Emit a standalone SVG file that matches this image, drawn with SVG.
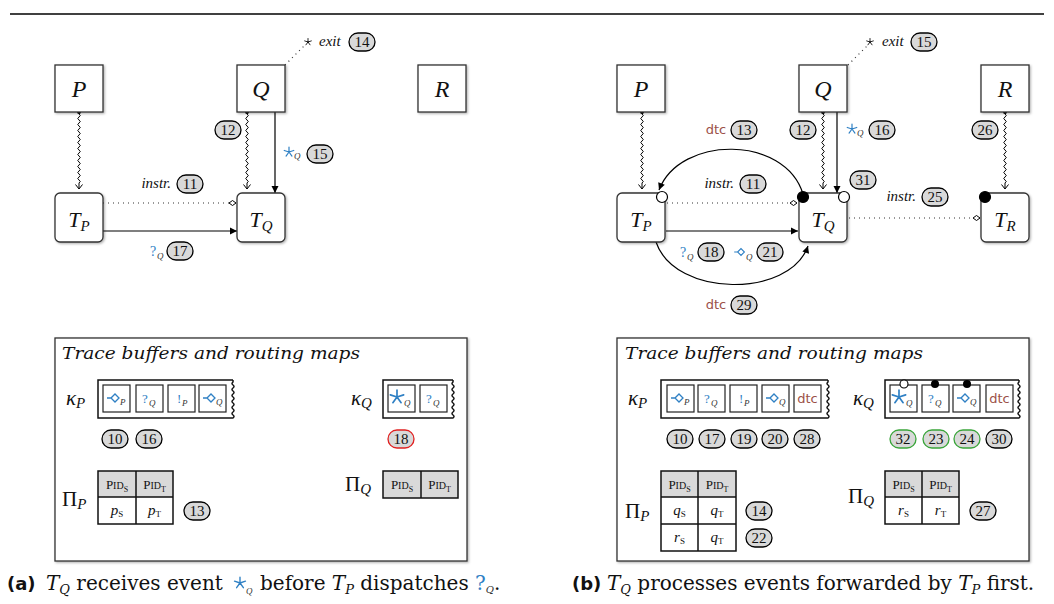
<svg xmlns="http://www.w3.org/2000/svg" width="1054" height="604" viewBox="0 0 1054 604" font-family="Liberation Serif, Times New Roman, serif">
<style>
.box{fill:#fff;stroke:#333;stroke-width:1.3}
.m{font-family:'Liberation Serif','Times New Roman',Tinos,'DejaVu Serif',serif;font-style:italic;fill:#111}
.rm{font-family:'Liberation Serif','Times New Roman',Tinos,'DejaVu Serif',serif;fill:#111}
.sub{font-family:'Liberation Serif','Times New Roman',Tinos,'DejaVu Serif',serif;font-style:italic;font-size:9px;fill:#333}
.bd rect{fill:#d9d9d9;stroke:#000;stroke-width:1.3}
.bd text{font-family:'Liberation Serif','Times New Roman',Tinos,'DejaVu Serif',serif;font-size:15px;text-anchor:middle;fill:#111}
.bd.g rect{stroke:#3aa53a}
.bd.r rect{stroke:#e02020}
.ln{fill:none;stroke:#000;stroke-width:1.2}
.dt{fill:none;stroke:#333;stroke-width:1.2;stroke-dasharray:1 4}
.snake{fill:none;stroke:#000;stroke-width:1}
.cell{fill:#fff;stroke:#222;stroke-width:1.2}
.buf{fill:#fff;stroke:#111;stroke-width:1.5}
.tbl{fill:none;stroke:#111;stroke-width:1.5}
.hd{fill:#d9d9d9;stroke:none}
.dtc{font-family:'DejaVu Sans','Liberation Sans',sans-serif;fill:#9b5148}
.qm{font-family:'Liberation Serif','Times New Roman',Tinos,'DejaVu Serif',serif;fill:#2f80c4}
.ttl{font-family:'DejaVu Serif','Liberation Serif',serif;font-style:italic;font-size:17px;fill:#111}
.cap{font-family:'DejaVu Serif','Liberation Serif',serif;font-size:20px;fill:#111}
.capb{font-family:'DejaVu Sans','Liberation Sans',sans-serif;font-weight:bold;font-size:18px;fill:#111}
</style>
<defs>
<filter id="sh" x="-10%" y="-10%" width="130%" height="130%"><feDropShadow dx="1.2" dy="1.2" stdDeviation="0.8" flood-color="#000" flood-opacity="0.3"/></filter>
<marker id="tri" viewBox="-8 -5 10 10" refX="0" refY="0" markerWidth="10" markerHeight="10" markerUnits="userSpaceOnUse" orient="auto"><path d="M-7,-3.5 L0,0 L-7,3.5 Z" fill="#000"/></marker>
<marker id="opn" viewBox="-8 -5 10 10" refX="0" refY="0" markerWidth="10" markerHeight="10" markerUnits="userSpaceOnUse" orient="auto"><path d="M-4.5,-3.5 L0,0 L-4.5,3.5" fill="none" stroke="#000" stroke-width="1"/></marker>
<marker id="dia" viewBox="-9 -5 10 10" refX="0" refY="0" markerWidth="10" markerHeight="10" markerUnits="userSpaceOnUse" orient="auto"><path d="M-7,0 L-3.5,-2.5 L0,0 L-3.5,2.5 Z" fill="#fff" stroke="#000" stroke-width="1"/></marker>
<marker id="dot" viewBox="-3 -3 6 6" refX="0" refY="0" markerWidth="6" markerHeight="6" markerUnits="userSpaceOnUse"><circle r="2" fill="#000"/></marker>
<path id="star" d="M0,-5 V0 M0,0 L4.76,-1.55 M0,0 L2.94,4.05 M0,0 L-2.94,4.05 M0,0 L-4.76,-1.55" fill="none" stroke-width="1.2" stroke-linecap="round"/>
<path id="dmd" d="M-8,0 H-4 M-4,0 L0,-4 L4,0 L0,4 Z" fill="none" stroke="#2f80c4" stroke-width="1.3" stroke-linejoin="miter"/>
</defs>
<rect width="1054" height="604" fill="#fff"/>
<line x1="10" y1="14" x2="1044" y2="14" stroke="#000" stroke-width="1.3"/>

<g id="a-connectors">
<path class="snake" transform="translate(79,112)" marker-start="url(#dot)" marker-end="url(#opn)" d="M0,0 v2 q2.5,1.5 0,3 t0,3 t0,3 t0,3 t0,3 t0,3 t0,3 t0,3 t0,3 t0,3 t0,3 t0,3 t0,3 t0,3 t0,3 t0,3 t0,3 t0,3 t0,3 t0,3 t0,3 t0,3 t0,3 v6"/>
<path class="snake" transform="translate(247,112)" marker-start="url(#dot)" marker-end="url(#opn)" d="M0,0 v2 q2.5,1.5 0,3 t0,3 t0,3 t0,3 t0,3 t0,3 t0,3 t0,3 t0,3 t0,3 t0,3 t0,3 t0,3 t0,3 t0,3 t0,3 t0,3 t0,3 t0,3 t0,3 t0,3 t0,3 t0,3 v6"/>
<path class="ln" d="M275,112 V193" marker-end="url(#tri)"/>
<path class="ln" d="M103,231 H237" marker-end="url(#tri)"/>
<path class="dt" d="M103,203 H236" marker-end="url(#dia)"/>
<path class="dt" d="M285,65 L305,45"/>
</g>

<g id="a-P"><rect class="box" x="55" y="65" width="48" height="47" filter="url(#sh)"/><text class="m" x="79" y="97" font-size="24" text-anchor="middle">P</text></g>
<g id="a-Q"><rect class="box" x="237" y="65" width="48" height="47" filter="url(#sh)"/><text class="m" x="261" y="97" font-size="24" text-anchor="middle">Q</text></g>
<g id="a-R"><rect class="box" x="418" y="65" width="48" height="47" filter="url(#sh)"/><text class="m" x="442" y="97" font-size="24" text-anchor="middle">R</text></g>
<g id="a-TP"><rect class="box" x="55" y="193" width="48" height="49" rx="5" filter="url(#sh)"/><text class="m" x="79" y="227" font-size="22" text-anchor="middle">T<tspan font-size="15" dy="4">P</tspan></text></g>
<g id="a-TQ"><rect class="box" x="237" y="193" width="48" height="49" rx="5" filter="url(#sh)"/><text class="m" x="261" y="227" font-size="22" text-anchor="middle">T<tspan font-size="15" dy="4">Q</tspan></text></g>

<g id="a-labels">
<use href="#star" transform="translate(308,42) scale(0.7)" stroke="#000"/>
<text class="m" x="319" y="46" font-size="15">exit</text>
<use href="#star" transform="translate(289,152)" stroke="#2f80c4"/>
<text class="sub" x="294" y="159">Q</text>
<text class="m" x="171" y="188" font-size="15" text-anchor="end">instr.</text>
<text class="qm" x="150" y="256" font-size="14">?</text><text class="sub" x="157" y="259">Q</text>
<g class="bd" transform="translate(362,42)"><rect x="-13" y="-9" width="26" height="18" rx="9"/><text y="5">14</text></g>
<g class="bd" transform="translate(228,130)"><rect x="-13" y="-9" width="26" height="18" rx="9"/><text y="5">12</text></g>
<g class="bd" transform="translate(320,154)"><rect x="-13" y="-9" width="26" height="18" rx="9"/><text y="5">15</text></g>
<g class="bd" transform="translate(190,184)"><rect x="-13" y="-9" width="26" height="18" rx="9"/><text y="5">11</text></g>
<g class="bd" transform="translate(180,251)"><rect x="-13" y="-9" width="26" height="18" rx="9"/><text y="5">17</text></g>
</g>

<g id="b-connectors">
<path class="snake" transform="translate(642,112)" marker-start="url(#dot)" marker-end="url(#opn)" d="M0,0 v2 q2.5,1.5 0,3 t0,3 t0,3 t0,3 t0,3 t0,3 t0,3 t0,3 t0,3 t0,3 t0,3 t0,3 t0,3 t0,3 t0,3 t0,3 t0,3 t0,3 t0,3 t0,3 t0,3 t0,3 t0,3 v6"/>
<path class="snake" transform="translate(823,112)" marker-start="url(#dot)" marker-end="url(#opn)" d="M0,0 v2 q2.5,1.5 0,3 t0,3 t0,3 t0,3 t0,3 t0,3 t0,3 t0,3 t0,3 t0,3 t0,3 t0,3 t0,3 t0,3 t0,3 t0,3 t0,3 t0,3 t0,3 t0,3 t0,3 t0,3 t0,3 v6"/>
<path class="snake" transform="translate(1005,112)" marker-start="url(#dot)" marker-end="url(#opn)" d="M0,0 v2 q2.5,1.5 0,3 t0,3 t0,3 t0,3 t0,3 t0,3 t0,3 t0,3 t0,3 t0,3 t0,3 t0,3 t0,3 t0,3 t0,3 t0,3 t0,3 t0,3 t0,3 t0,3 t0,3 t0,3 t0,3 v6"/>
<path class="ln" d="M837,112 V193" marker-end="url(#tri)"/>
<path class="ln" d="M666,231 H798" marker-end="url(#tri)"/>
<path class="dt" d="M667,203 H797" marker-end="url(#dia)"/>
<path class="dt" d="M849,218 H980" marker-end="url(#dia)"/>
<path class="dt" d="M848,65 L868,45"/>
<path class="ln" d="M803,194 C785,135 680,135 659,190" marker-end="url(#tri)"/>
<path class="ln" d="M656,242 C675,298 790,298 808,246" marker-end="url(#tri)"/>
</g>

<g id="b-P"><rect class="box" x="617" y="65" width="48" height="47" filter="url(#sh)"/><text class="m" x="641" y="97" font-size="24" text-anchor="middle">P</text></g>
<g id="b-Q"><rect class="box" x="799" y="65" width="48" height="47" filter="url(#sh)"/><text class="m" x="823" y="97" font-size="24" text-anchor="middle">Q</text></g>
<g id="b-R"><rect class="box" x="981" y="65" width="48" height="47" filter="url(#sh)"/><text class="m" x="1005" y="97" font-size="24" text-anchor="middle">R</text></g>
<g id="b-TP"><rect class="box" x="617" y="193" width="48" height="49" rx="5" filter="url(#sh)"/><text class="m" x="641" y="227" font-size="22" text-anchor="middle">T<tspan font-size="15" dy="4">P</tspan></text><circle cx="662" cy="197" r="5.5" fill="#fff" stroke="#000" stroke-width="1.2"/></g>
<g id="b-TQ"><rect class="box" x="799" y="193" width="48" height="49" rx="5" filter="url(#sh)"/><text class="m" x="823" y="227" font-size="22" text-anchor="middle">T<tspan font-size="15" dy="4">Q</tspan></text><circle cx="803" cy="197" r="5.5" fill="#000" stroke="#000" stroke-width="1.2"/><circle cx="844" cy="197" r="5.5" fill="#fff" stroke="#000" stroke-width="1.2"/></g>
<g id="b-TR"><rect class="box" x="981" y="193" width="48" height="49" rx="5" filter="url(#sh)"/><text class="m" x="1005" y="227" font-size="22" text-anchor="middle">T<tspan font-size="15" dy="4">R</tspan></text><circle cx="985" cy="197" r="5.5" fill="#000" stroke="#000" stroke-width="1.2"/></g>

<g id="b-labels">
<use href="#star" transform="translate(870,42) scale(0.7)" stroke="#000"/>
<text class="m" x="882" y="46" font-size="15">exit</text>
<use href="#star" transform="translate(852,129)" stroke="#2f80c4"/>
<text class="sub" x="857" y="136">Q</text>
<text class="dtc" x="716" y="134" font-size="13" text-anchor="middle">dtc</text>
<text class="dtc" x="716" y="309" font-size="13" text-anchor="middle">dtc</text>
<text class="m" x="734" y="188" font-size="15" text-anchor="end">instr.</text>
<text class="m" x="916" y="201" font-size="15" text-anchor="end">instr.</text>
<text class="qm" x="680" y="257" font-size="14">?</text><text class="sub" x="687" y="260">Q</text>
<use href="#dmd" transform="translate(741,252) scale(0.85)"/><text class="sub" x="746" y="260">Q</text>
<g class="bd" transform="translate(924,42)"><rect x="-13" y="-9" width="26" height="18" rx="9"/><text y="5">15</text></g>
<g class="bd" transform="translate(744,130)"><rect x="-13" y="-9" width="26" height="18" rx="9"/><text y="5">13</text></g>
<g class="bd" transform="translate(803,130)"><rect x="-13" y="-9" width="26" height="18" rx="9"/><text y="5">12</text></g>
<g class="bd" transform="translate(882,130)"><rect x="-13" y="-9" width="26" height="18" rx="9"/><text y="5">16</text></g>
<g class="bd" transform="translate(985,130)"><rect x="-13" y="-9" width="26" height="18" rx="9"/><text y="5">26</text></g>
<g class="bd" transform="translate(863,180)"><rect x="-13" y="-9" width="26" height="18" rx="9"/><text y="5">31</text></g>
<g class="bd" transform="translate(753,184)"><rect x="-13" y="-9" width="26" height="18" rx="9"/><text y="5">11</text></g>
<g class="bd" transform="translate(935,197)"><rect x="-13" y="-9" width="26" height="18" rx="9"/><text y="5">25</text></g>
<g class="bd" transform="translate(711,252)"><rect x="-13" y="-9" width="26" height="18" rx="9"/><text y="5">18</text></g>
<g class="bd" transform="translate(770,252)"><rect x="-13" y="-9" width="26" height="18" rx="9"/><text y="5">21</text></g>
<g class="bd" transform="translate(744,305)"><rect x="-13" y="-9" width="26" height="18" rx="9"/><text y="5">29</text></g>
</g>

<g id="a-buffers">
<rect x="55" y="338" width="412" height="223" fill="#fff" stroke="#333" stroke-width="1.3" filter="url(#sh)"/>
<text class="ttl" x="62" y="359" textLength="298" lengthAdjust="spacingAndGlyphs">Trace buffers and routing maps</text>
<text class="m" x="66" y="405" font-size="21">κ<tspan font-size="15" dy="3">P</tspan></text>
<path class="buf" d="M233,380 H98 V418 H233 q2,-1.5 0,-3 t0,-3 t0,-3 t0,-3 t0,-3 t0,-3 t0,-3 t0,-3 t0,-3 t0,-3 t0,-3 t0,-3 V380"/>
<rect class="cell" x="103" y="385" width="27" height="27"/>
<rect class="cell" x="136" y="385" width="27" height="27"/>
<rect class="cell" x="168" y="385" width="27" height="27"/>
<rect class="cell" x="199" y="385" width="27" height="27"/>
<use href="#dmd" transform="translate(115,398)"/><text class="sub" x="120" y="405">P</text>
<text class="qm" x="142" y="403" font-size="13">?</text><text class="sub" x="149" y="406">Q</text>
<text class="qm" x="177" y="403" font-size="13">!</text><text class="sub" x="182" y="406">P</text>
<use href="#dmd" transform="translate(211,398)"/><text class="sub" x="216" y="405">Q</text>
<g class="bd" transform="translate(115,439)"><rect x="-13" y="-9" width="26" height="18" rx="9"/><text y="5">10</text></g>
<g class="bd" transform="translate(149,439)"><rect x="-13" y="-9" width="26" height="18" rx="9"/><text y="5">16</text></g>

<text class="m" x="351" y="405" font-size="21">κ<tspan font-size="15" dy="3">Q</tspan></text>
<path class="buf" d="M453,380 H383 V418 H453 q2,-1.5 0,-3 t0,-3 t0,-3 t0,-3 t0,-3 t0,-3 t0,-3 t0,-3 t0,-3 t0,-3 t0,-3 t0,-3 V380"/>
<rect class="cell" x="388" y="385" width="27" height="27"/>
<rect class="cell" x="420" y="385" width="27" height="27"/>
<use href="#star" transform="translate(397,397) scale(1.4)" stroke="#2f80c4"/><text class="sub" x="404" y="406">Q</text>
<text class="qm" x="426" y="403" font-size="13">?</text><text class="sub" x="433" y="406">Q</text>
<g class="bd r" transform="translate(401,439)"><rect x="-13" y="-9" width="26" height="18" rx="9"/><text y="5">18</text></g>

<text class="rm" x="62" y="506" font-size="21">Π<tspan font-style="italic" font-size="15" dy="3">P</tspan></text>
<rect class="hd" x="98" y="471" width="75" height="26"/>
<rect class="tbl" x="98" y="471" width="75" height="53"/>
<path class="tbl" d="M98,497 H173 M136,471 V524"/>
<text class="rm" x="117" y="489" font-size="13" text-anchor="middle">P<tspan font-size="10">ID</tspan><tspan font-size="8" dy="3">S</tspan></text>
<text class="rm" x="154.5" y="489" font-size="13" text-anchor="middle">P<tspan font-size="10">ID</tspan><tspan font-size="8" dy="3">T</tspan></text>
<text class="m" x="117" y="515" font-size="15" text-anchor="middle">p<tspan font-style="normal" font-size="9" dy="2">S</tspan></text>
<text class="m" x="154.5" y="515" font-size="15" text-anchor="middle">p<tspan font-style="normal" font-size="9" dy="2">T</tspan></text>
<g class="bd" transform="translate(197,511)"><rect x="-13" y="-9" width="26" height="18" rx="9"/><text y="5">13</text></g>

<text class="rm" x="345" y="491" font-size="21">Π<tspan font-style="italic" font-size="15" dy="3">Q</tspan></text>
<rect class="hd" x="383" y="471" width="75" height="27"/>
<rect class="tbl" x="383" y="471" width="75" height="27"/>
<path class="tbl" d="M421,471 V498"/>
<text class="rm" x="402" y="489" font-size="13" text-anchor="middle">P<tspan font-size="10">ID</tspan><tspan font-size="8" dy="3">S</tspan></text>
<text class="rm" x="439.5" y="489" font-size="13" text-anchor="middle">P<tspan font-size="10">ID</tspan><tspan font-size="8" dy="3">T</tspan></text>
</g>

<g id="b-buffers">
<rect x="617" y="338" width="412" height="223" fill="#fff" stroke="#333" stroke-width="1.3" filter="url(#sh)"/>
<text class="ttl" x="625" y="359" textLength="298" lengthAdjust="spacingAndGlyphs">Trace buffers and routing maps</text>
<text class="m" x="628" y="405" font-size="21">κ<tspan font-size="15" dy="3">P</tspan></text>
<path class="buf" d="M828,380 H661 V418 H828 q2,-1.5 0,-3 t0,-3 t0,-3 t0,-3 t0,-3 t0,-3 t0,-3 t0,-3 t0,-3 t0,-3 t0,-3 t0,-3 V380"/>
<rect class="cell" x="667" y="385" width="27" height="27"/>
<rect class="cell" x="698" y="385" width="27" height="27"/>
<rect class="cell" x="730" y="385" width="27" height="27"/>
<rect class="cell" x="762" y="385" width="27" height="27"/>
<rect class="cell" x="794" y="385" width="27" height="27"/>
<use href="#dmd" transform="translate(679,398)"/><text class="sub" x="684" y="405">P</text>
<text class="qm" x="704" y="403" font-size="13">?</text><text class="sub" x="711" y="406">Q</text>
<text class="qm" x="739" y="403" font-size="13">!</text><text class="sub" x="744" y="406">P</text>
<use href="#dmd" transform="translate(774,398)"/><text class="sub" x="779" y="405">Q</text>
<text class="dtc" x="807.5" y="403" font-size="13" text-anchor="middle">dtc</text>
<g class="bd" transform="translate(680,439)"><rect x="-13" y="-9" width="26" height="18" rx="9"/><text y="5">10</text></g>
<g class="bd" transform="translate(712,439)"><rect x="-13" y="-9" width="26" height="18" rx="9"/><text y="5">17</text></g>
<g class="bd" transform="translate(744,439)"><rect x="-13" y="-9" width="26" height="18" rx="9"/><text y="5">19</text></g>
<g class="bd" transform="translate(775,439)"><rect x="-13" y="-9" width="26" height="18" rx="9"/><text y="5">20</text></g>
<g class="bd" transform="translate(807,439)"><rect x="-13" y="-9" width="26" height="18" rx="9"/><text y="5">28</text></g>

<text class="m" x="853" y="405" font-size="21">κ<tspan font-size="15" dy="3">Q</tspan></text>
<path class="buf" d="M1019,380 H885 V418 H1019 q2,-1.5 0,-3 t0,-3 t0,-3 t0,-3 t0,-3 t0,-3 t0,-3 t0,-3 t0,-3 t0,-3 t0,-3 t0,-3 V380"/>
<rect class="cell" x="890" y="385" width="27" height="27"/>
<rect class="cell" x="922" y="385" width="27" height="27"/>
<rect class="cell" x="953" y="385" width="27" height="27"/>
<rect class="cell" x="986" y="385" width="27" height="27"/>
<use href="#star" transform="translate(899,397) scale(1.4)" stroke="#2f80c4"/><text class="sub" x="906" y="406">Q</text>
<text class="qm" x="928" y="403" font-size="13">?</text><text class="sub" x="935" y="406">Q</text>
<use href="#dmd" transform="translate(965,398)"/><text class="sub" x="970" y="405">Q</text>
<text class="dtc" x="999.5" y="403" font-size="13" text-anchor="middle">dtc</text>
<circle cx="904" cy="384" r="4" fill="#fff" stroke="#000" stroke-width="1.1"/>
<circle cx="935" cy="384" r="4" fill="#000"/>
<circle cx="967" cy="384" r="4" fill="#000"/>
<g class="bd g" transform="translate(903,439)"><rect x="-13" y="-9" width="26" height="18" rx="9"/><text y="5">32</text></g>
<g class="bd g" transform="translate(936,439)"><rect x="-13" y="-9" width="26" height="18" rx="9"/><text y="5">23</text></g>
<g class="bd g" transform="translate(967,439)"><rect x="-13" y="-9" width="26" height="18" rx="9"/><text y="5">24</text></g>
<g class="bd" transform="translate(999,439)"><rect x="-13" y="-9" width="26" height="18" rx="9"/><text y="5">30</text></g>

<text class="rm" x="625" y="518" font-size="21">Π<tspan font-style="italic" font-size="15" dy="3">P</tspan></text>
<rect class="hd" x="661" y="471" width="75" height="26"/>
<rect class="tbl" x="661" y="471" width="75" height="80"/>
<path class="tbl" d="M661,497 H736 M661,524 H736 M698,471 V551"/>
<text class="rm" x="679.5" y="489" font-size="13" text-anchor="middle">P<tspan font-size="10">ID</tspan><tspan font-size="8" dy="3">S</tspan></text>
<text class="rm" x="717" y="489" font-size="13" text-anchor="middle">P<tspan font-size="10">ID</tspan><tspan font-size="8" dy="3">T</tspan></text>
<text class="m" x="679.5" y="515" font-size="15" text-anchor="middle">q<tspan font-style="normal" font-size="9" dy="2">S</tspan></text>
<text class="m" x="717" y="515" font-size="15" text-anchor="middle">q<tspan font-style="normal" font-size="9" dy="2">T</tspan></text>
<text class="m" x="679.5" y="542" font-size="15" text-anchor="middle">r<tspan font-style="normal" font-size="9" dy="2">S</tspan></text>
<text class="m" x="717" y="542" font-size="15" text-anchor="middle">q<tspan font-style="normal" font-size="9" dy="2">T</tspan></text>
<g class="bd" transform="translate(759,511)"><rect x="-13" y="-9" width="26" height="18" rx="9"/><text y="5">14</text></g>
<g class="bd" transform="translate(759,538)"><rect x="-13" y="-9" width="26" height="18" rx="9"/><text y="5">22</text></g>

<text class="rm" x="848" y="503" font-size="21">Π<tspan font-style="italic" font-size="15" dy="3">Q</tspan></text>
<rect class="hd" x="885" y="471" width="74" height="26"/>
<rect class="tbl" x="885" y="471" width="74" height="53"/>
<path class="tbl" d="M885,497 H959 M922,471 V524"/>
<text class="rm" x="903.5" y="489" font-size="13" text-anchor="middle">P<tspan font-size="10">ID</tspan><tspan font-size="8" dy="3">S</tspan></text>
<text class="rm" x="940.5" y="489" font-size="13" text-anchor="middle">P<tspan font-size="10">ID</tspan><tspan font-size="8" dy="3">T</tspan></text>
<text class="m" x="903.5" y="515" font-size="15" text-anchor="middle">r<tspan font-style="normal" font-size="9" dy="2">S</tspan></text>
<text class="m" x="940.5" y="515" font-size="15" text-anchor="middle">r<tspan font-style="normal" font-size="9" dy="2">T</tspan></text>
<g class="bd" transform="translate(983,511)"><rect x="-13" y="-9" width="26" height="18" rx="9"/><text y="5">27</text></g>
</g>

<g id="captions">
<text class="capb" x="7" y="590">(a)</text>
<text class="cap" x="46" y="590"><tspan font-style="italic">T</tspan><tspan font-style="italic" font-size="13" dy="4">Q</tspan><tspan dy="-4"> receives event</tspan></text>
<use href="#star" transform="translate(240,583) scale(1.15)" stroke="#2f80c4"/>
<text class="sub" x="246" y="594" font-size="10">Q</text>
<text class="cap" x="260" y="590">before <tspan font-style="italic">T</tspan><tspan font-style="italic" font-size="13" dy="4">P</tspan><tspan dy="-4"> dispatches </tspan><tspan fill="#2f80c4">?</tspan><tspan font-style="italic" font-size="10" dy="3" fill="#333">Q</tspan><tspan dy="-3">.</tspan></text>
<text class="capb" x="572" y="590">(b)</text>
<text class="cap" x="607" y="590"><tspan font-style="italic">T</tspan><tspan font-style="italic" font-size="13" dy="4">Q</tspan><tspan dy="-4"> processes events forwarded by </tspan><tspan font-style="italic">T</tspan><tspan font-style="italic" font-size="13" dy="4">P</tspan><tspan dy="-4"> first.</tspan></text>
</g>
</svg>
